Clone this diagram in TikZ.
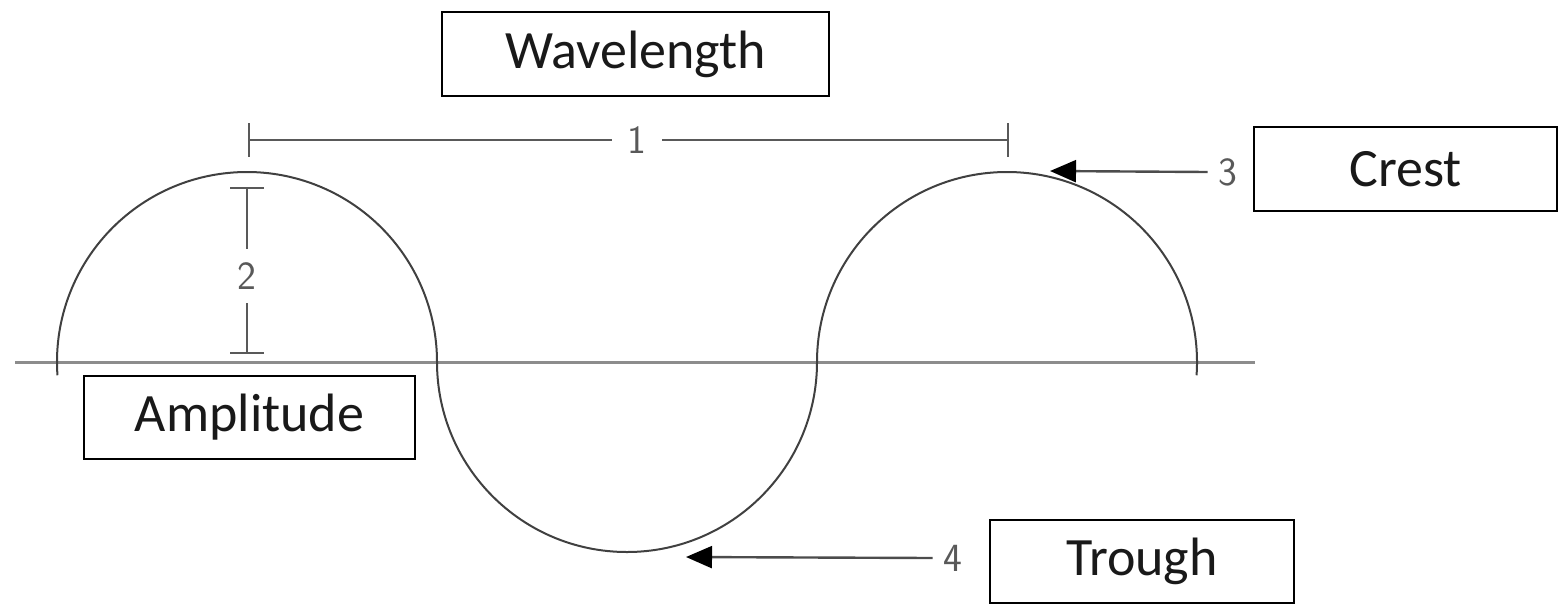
\documentclass[tikz,border=0pt]{standalone}
\usepackage{fontspec}
\setmainfont{Carlito}
\usetikzlibrary{arrows.meta}
\begin{document}
\begin{tikzpicture}[x=0.5pt,y=-0.5pt,
  box/.style={draw=black,line width=1.4pt,inner sep=0pt,font=\fontsize{27}{30}\selectfont,text=black!90},
  numlbl/.style={font=\sffamily\fontsize{20}{22}\selectfont,text=black!65,inner sep=0pt,minimum width=25pt,minimum height=15pt},
  dimline/.style={draw=black!65,line width=1.1pt},
  waveline/.style={draw=black!75,line width=1pt},
  axisline/.style={draw=black!45,line width=1.5pt},
  ptr/.style={draw=black!70,line width=1.2pt,-{Triangle[length=13pt,width=11pt,black]}}
]
\useasboundingbox (0,0) rectangle (1566,606);
% axis
\coordinate (axL) at (15,362);
\coordinate (axR) at (1255,362);
\draw[axisline] (axL) -- (axR);
% wave
\coordinate (w0) at ({247+190*cos(184)},{362-190*sin(184)});
\draw[waveline] (w0) arc[start angle=184,end angle=0,x radius=190,y radius=-190]
  arc[start angle=180,end angle=360,x radius=190,y radius=-190]
  arc[start angle=180,end angle=-4,x radius=190,y radius=-190];
% wavelength dimension
\coordinate (wl) at (249,140);
\coordinate (wr) at (1008,140);
\node[numlbl] (n1) at (637,140) {1};
\draw[dimline] (wl) -- (n1.west);
\draw[dimline] (n1.east) -- (wr);
\draw[dimline] ([yshift=8.5pt]wl) -- ([yshift=-8.5pt]wl);
\draw[dimline] ([yshift=8.5pt]wr) -- ([yshift=-8.5pt]wr);
% amplitude dimension
\coordinate (at) at (247,188);
\coordinate (ab) at (247,353);
\node[numlbl,minimum width=10pt,minimum height=27pt] (n2) at (247,276) {2};
\draw[dimline] (at) -- (n2.north);
\draw[dimline] (n2.south) -- (ab);
\draw[dimline] ([xshift=-8.5pt]at) -- ([xshift=8.5pt]at);
\draw[dimline] ([xshift=-8.5pt]ab) -- ([xshift=8.5pt]ab);
% crest pointer
\node[numlbl,minimum width=20pt] (n3) at (1228,172) {3};
\coordinate (c3) at (1050,171);
\draw[ptr] (n3.west) -- (c3);
% trough pointer
\node[numlbl,minimum width=20pt] (n4) at (953,558) {4};
\coordinate (c4) at (686,557);
\draw[ptr] (n4.west) -- (c4);
% boxes
\node[box,minimum width=193.5pt,minimum height=42pt] (wave) at (635.5,54) {Wavelength};
\node[box,minimum width=151.5pt,minimum height=42pt] (crest) at (1405.5,169) {Crest};
\node[box,minimum width=165.5pt,minimum height=41.5pt] (amp) at (249.5,417.5) {Amplitude};
\node[box,minimum width=152pt,minimum height=41.5pt] (trough) at (1142,561.5) {Trough};
\end{tikzpicture}
\end{document}
